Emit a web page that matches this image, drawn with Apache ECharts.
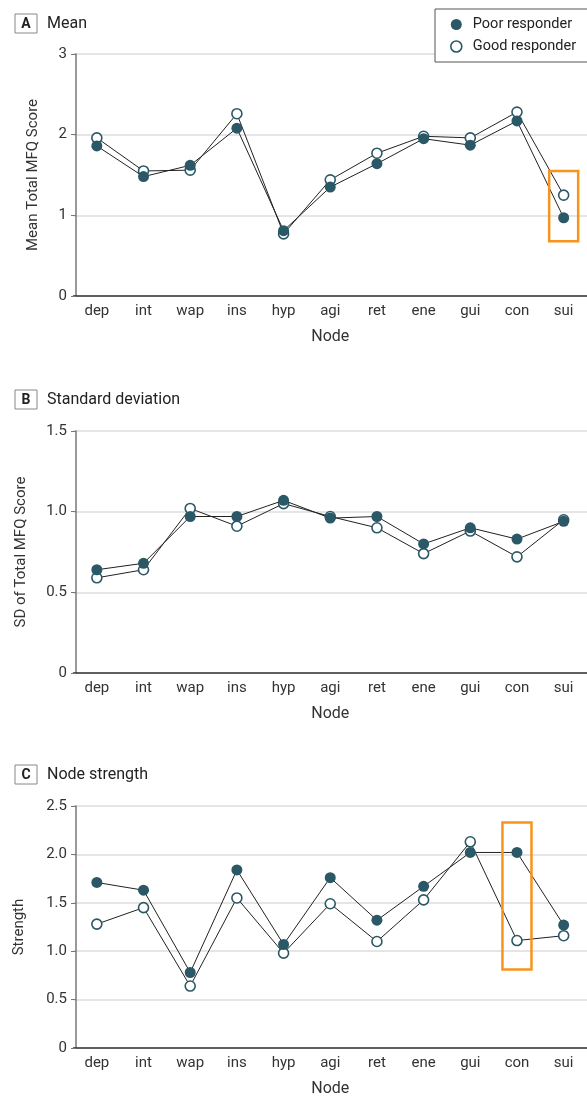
<!DOCTYPE html>
<html>
<head>
<meta charset="utf-8">
<script src="https://cdn.jsdelivr.net/npm/echarts@6/dist/echarts.min.js"></script>
<style>
html,body{margin:0;padding:0;background:#fff;}
#chart{width:587px;height:1099px;}
</style>
</head>
<body>
<div id="chart"></div>
<script>
const categories = ['dep','int','wap','ins','hyp','agi','ret','ene','gui','con','sui'];
const seriesNames = ['Poor responder','Good responder'];
const panelLetters = ['A','B','C'];
const panelTitles = ['Mean','Standard deviation','Node strength'];
const yAxisNames = ['Mean Total MFQ Score','SD of Total MFQ Score','Strength'];
const xAxisName = 'Node';
const meanPoor = [1.86,1.48,1.62,2.08,0.81,1.35,1.64,1.95,1.87,2.17,0.97];
const meanGood = [1.96,1.55,1.56,2.26,0.77,1.44,1.77,1.98,1.96,2.28,1.25];
const sdPoor = [0.64,0.68,0.97,0.97,1.07,0.96,0.97,0.80,0.90,0.83,0.94];
const sdGood = [0.59,0.64,1.02,0.91,1.05,0.97,0.90,0.74,0.88,0.72,0.95];
const strengthPoor = [1.71,1.63,0.78,1.84,1.07,1.76,1.32,1.67,2.02,2.02,1.27];
const strengthGood = [1.28,1.45,0.64,1.55,0.98,1.49,1.10,1.53,2.13,1.11,1.16];
const yMaxes = [3, 1.5, 2.5];
const yIntervals = [1, 0.5, 0.5];
// highlight boxes: [panelIndex, category, yLow, yHigh]
const highlights = [[0,'sui',0.68,1.55],[2,'con',0.81,2.33]];

const FONT = 'Roboto';
const TEAL = '#2b5866';
const TXT = '#333';
const gridTops = [54, 431, 806];
const gridH = 242;
const titleTops = [9, 385, 760];
const yNameGaps = [35, 47, 49];

const chart = echarts.init(document.getElementById('chart'), null, {renderer:'canvas'});

const grids = [], xAxes = [], yAxes = [], series = [], titles = [];
const data = [[meanPoor, meanGood],[sdPoor, sdGood],[strengthPoor, strengthGood]];

for (let i = 0; i < 3; i++) {
  grids.push({left: 73.5, top: gridTops[i], width: 517, height: gridH, containLabel:false});
  xAxes.push({
    type:'category', gridIndex:i, data:categories, boundaryGap:true,
    name:xAxisName, nameLocation:'middle', nameGap:33,
    nameTextStyle:{fontFamily:FONT, fontSize:16, color:TXT},
    axisLine:{lineStyle:{color:'#333', width:1.5}},
    axisTick:{alignWithLabel:true, length:5, lineStyle:{color:'#666'}},
    axisLabel:{fontFamily:FONT, fontSize:15, color:TXT, margin:8, interval:0},
    splitLine:{show:false}
  });
  const dec = yIntervals[i] < 1;
  yAxes.push({
    type:'value', gridIndex:i, min:0, max:yMaxes[i], interval:yIntervals[i], offset:-2.5,
    name:yAxisNames[i], nameLocation:'middle', nameGap:yNameGaps[i], nameRotate:90,
    nameTextStyle:{fontFamily:FONT, fontSize:15, color:TXT},
    axisLine:{show:true, lineStyle:{color:'#777', width:1.5}},
    axisTick:{show:true, length:5, lineStyle:{color:'#777'}},
    axisLabel:{fontFamily:FONT, fontSize:15, color:TXT, margin:9,
      formatter: v => v === 0 ? '0' : (dec ? v.toFixed(1) : String(v))},
    splitLine:{show:true, lineStyle:{color:'#dcdcdc', width:1.5}}
  });
  titles.push({
    left:10, top:titleTops[i],
    text:'{box|' + panelLetters[i] + '}{t|' + panelTitles[i] + '}',
    textStyle:{rich:{
      box:{fontFamily:FONT, fontSize:14, fontWeight:'bold', color:'#222', borderColor:'#888', borderWidth:1,
           width:12, align:'center', padding:[3,5,2,5]},
      t:{fontFamily:FONT, fontSize:16, fontWeight:'normal', color:'#222', padding:[0,0,0,10]}
    }}
  });
  // Good first, Poor on top
  series.push({
    type:'line', name:seriesNames[1], xAxisIndex:i, yAxisIndex:i, data:data[i][1],
    symbol:'circle', symbolSize:10,
    lineStyle:{color:'#222', width:1},
    itemStyle:{color:'#fff', borderColor:TEAL, borderWidth:1.6},
    z:3, animation:false
  });
  series.push({
    type:'line', name:seriesNames[0], xAxisIndex:i, yAxisIndex:i, data:data[i][0],
    symbol:'circle', symbolSize:11,
    lineStyle:{color:'#222', width:1},
    itemStyle:{color:TEAL, borderWidth:0},
    z:4, animation:false
  });
}

chart.setOption({
  animation:false,
  backgroundColor:'#fff',
  textStyle:{fontFamily:FONT},
  title:titles,
  grid:grids, xAxis:xAxes, yAxis:yAxes, series:series,
  legend:{
    orient:'vertical', left:435, top:9,
    padding:[8,40,8,15], itemGap:7, itemWidth:11, itemHeight:11,
    backgroundColor:'#fff', borderColor:'#555', borderWidth:1, borderRadius:0,
    textStyle:{fontFamily:FONT, fontSize:14.5, color:'#222', padding:[0,0,0,6]},
    data:[
      {name:seriesNames[0], icon:'circle', itemStyle:{color:TEAL, borderWidth:0}},
      {name:seriesNames[1], icon:'circle', itemStyle:{color:'#fff', borderColor:TEAL, borderWidth:1.6}}
    ]
  }
});

const halfW = 14.5;
const graphics = highlights.map(h => {
  const pTop = chart.convertToPixel({xAxisIndex:h[0], yAxisIndex:h[0]}, [h[1], h[3]]);
  const pBot = chart.convertToPixel({xAxisIndex:h[0], yAxisIndex:h[0]}, [h[1], h[2]]);
  return {
    type:'rect', z:10,
    shape:{x:pTop[0]-halfW, y:pTop[1], width:halfW*2, height:pBot[1]-pTop[1]},
    style:{fill:'none', stroke:'#f7941d', lineWidth:2.5}
  };
});
chart.setOption({graphic:graphics});
</script>
</body>
</html>
